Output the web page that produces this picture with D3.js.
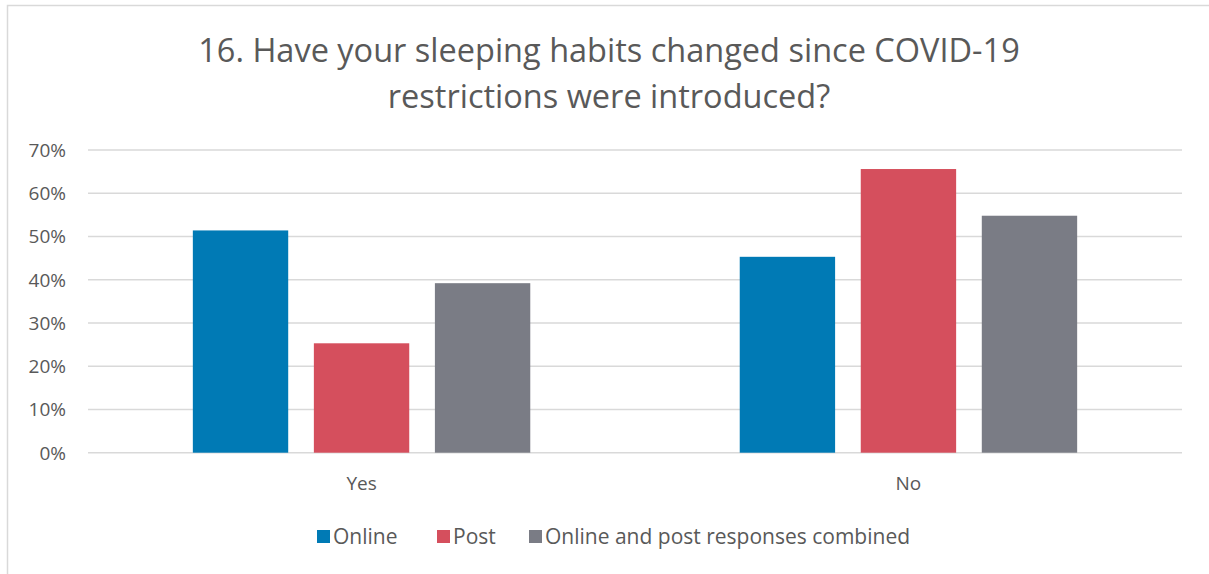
<!DOCTYPE html>
<html>
<head>
<meta charset="utf-8">
<script src="https://cdn.jsdelivr.net/npm/d3@7"></script>
<style>
  body { margin: 0; background: #fff; }
  text { font-family: "Open Sans", "Noto Sans", sans-serif; fill: #595959; }
</style>
</head>
<body>
<svg width="1209" height="574"></svg>
<script>
// Data dari grafik
const categories = ["Yes", "No"];
const seriesNames = ["Online", "Post", "Online and post responses combined"];
const online = [0.514, 0.453];
const post = [0.253, 0.656];
const combined = [0.392, 0.548];
const yTicks = [0, 0.1, 0.2, 0.3, 0.4, 0.5, 0.6, 0.7];
const colors = ["#007AB5", "#D54F5D", "#7A7C85"];

const values = [online, post, combined];
const svg = d3.select("svg");

// Bingkai grafik
svg.append("rect")
  .attr("x", 7.5).attr("y", 5.5)
  .attr("width", 1210).attr("height", 580)
  .attr("fill", "none").attr("stroke", "#D9D9D9").attr("stroke-width", 1.5);

// Judul
const title = svg.append("text")
  .attr("text-anchor", "middle")
  .attr("font-size", 32.5);
title.append("tspan").attr("x", 609).attr("y", 62).text("16. Have your sleeping habits changed since COVID-19");
title.append("tspan").attr("x", 609).attr("y", 108).text("restrictions were introduced?");

const plotLeft = 88, plotRight = 1182, plotTop = 150, plotBottom = 452.7;

const y = d3.scaleLinear().domain([0, 0.7]).range([plotBottom, plotTop]);
const x0 = d3.scaleBand().domain(categories).range([plotLeft, plotRight])
  .paddingInner(0.383).paddingOuter(0.1917);
const x1 = d3.scaleBand().domain(seriesNames).range([0, x0.bandwidth()])
  .paddingInner(0.212);

// Garis grid
svg.append("g").selectAll("line")
  .data(yTicks)
  .enter().append("line")
  .attr("x1", plotLeft).attr("x2", plotRight)
  .attr("y1", d => y(d)).attr("y2", d => y(d))
  .attr("stroke", "#D9D9D9").attr("stroke-width", 1.5);

// Label sumbu Y
svg.append("g").selectAll("text")
  .data(yTicks)
  .enter().append("text")
  .attr("x", 66).attr("y", d => y(d) + 7)
  .attr("text-anchor", "end")
  .attr("font-size", 19)
  .text(d => d3.format(".0%")(d));

// Batang
seriesNames.forEach((s, i) => {
  svg.append("g").selectAll("rect")
    .data(categories)
    .enter().append("rect")
    .attr("x", c => x0(c) + x1(s))
    .attr("width", x1.bandwidth())
    .attr("y", (c, j) => y(values[i][j]))
    .attr("height", (c, j) => plotBottom - y(values[i][j]))
    .attr("fill", colors[i]);
});

// Label kategori
svg.append("g").selectAll("text")
  .data(categories)
  .enter().append("text")
  .attr("x", c => x0(c) + x0.bandwidth() / 2)
  .attr("y", 490)
  .attr("text-anchor", "middle")
  .attr("font-size", 19)
  .text(c => c);

// Legenda
const legendX = [317, 437, 529];
const legend = svg.append("g").selectAll("g")
  .data(seriesNames)
  .enter().append("g")
  .attr("transform", (d, i) => `translate(${legendX[i]},530)`);
legend.append("rect")
  .attr("width", 13).attr("height", 13)
  .attr("fill", (d, i) => colors[i]);
legend.append("text")
  .attr("x", 16).attr("y", 14)
  .attr("font-size", 21)
  .text(d => d);
</script>
</body>
</html>
